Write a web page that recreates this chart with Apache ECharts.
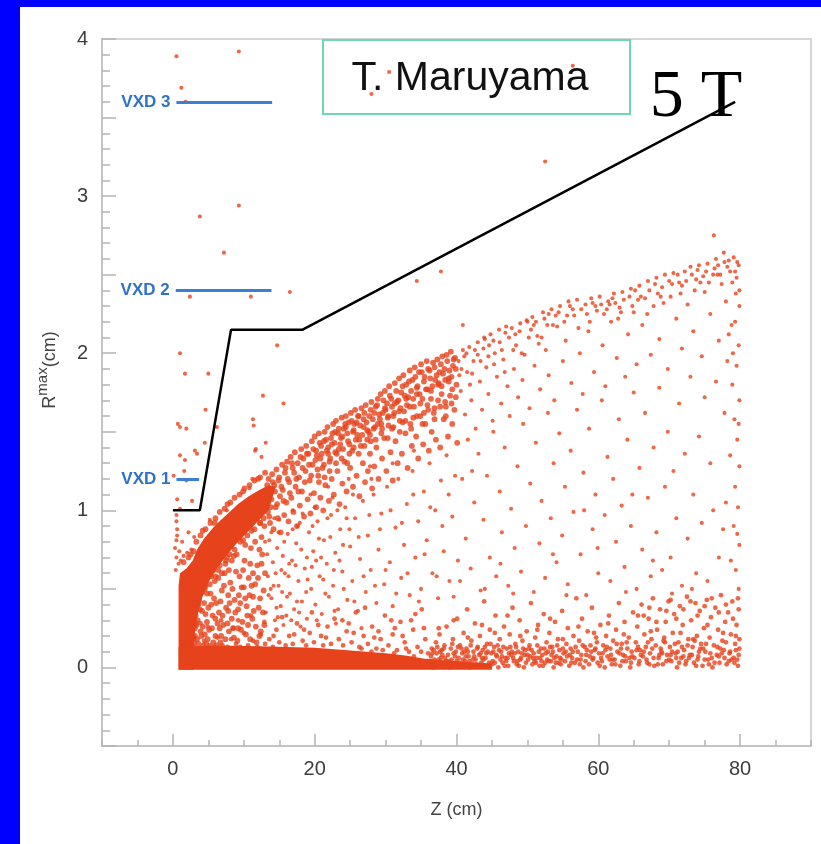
<!DOCTYPE html>
<html>
<head>
<meta charset="utf-8">
<script src="https://cdn.jsdelivr.net/npm/echarts@6/dist/echarts.min.js"></script>
<style>
  html, body { margin: 0; padding: 0; background: #0000ff; width: 821px; height: 844px; overflow: hidden; }
  #chart { position: absolute; left: 20px; top: 7px; width: 801px; height: 837px; background: #fff; }
</style>
</head>
<body>
<div id="chart"></div>
<script>
  // tick labels
  const xLabels = [0, 20, 40, 60, 80]
  const yLabels = [0, 1, 2, 3, 4]

  // acceptance limit (black line), Z in cm / R in cm
  const limitZ = [0, 3.8, 8.2, 18.3, 79.3]
  const limitR = [1.0, 1.0, 2.15, 2.15, 3.6]

  // vertex detector layers
  const vxdNames = ['VXD 1', 'VXD 2', 'VXD 3']
  const vxdR = [1.2, 2.4, 3.6]
  const vxdZStart = [0.5, 0.4, 0.5]
  const vxdZEnd = [3.7, 13.9, 14.0]

  // regions where the hits are so packed they read as solid colour
  const denseArc = [[0.8, -0.015], [0.8, 0.52], [1.0, 0.6], [1.9, 0.63], [2.8, 0.68], [3.4, 0.75], [4.4, 0.82],
    [5.7, 0.89], [6.8, 0.94], [8.0, 0.99], [9.2, 1.04], [10.7, 1.09], [12.2, 1.13], [13.5, 1.16], [14.5, 1.15],
    [13.5, 1.0], [12, 0.93], [10.5, 0.86], [9, 0.79], [7.5, 0.71], [6.2, 0.63], [5, 0.54], [4.1, 0.44],
    [3.4, 0.32], [3.0, 0.18], [2.9, -0.015]]
  const denseFloor = [[0.8, -0.015], [0.8, 0.13], [6, 0.14], [12, 0.135], [20, 0.125], [26, 0.105], [30, 0.09],
    [33, 0.075], [35.5, 0.055], [40, 0.04], [45, 0.025], [45, -0.015]]

  // individual hits
  const strayHits = [[0.5, 3.89], [9.3, 3.92], [1.2, 3.69], [1.8, 3.6], [3.8, 2.87], [9.3, 2.94], [7.2, 2.64],
    [2.4, 2.36], [11.0, 2.36], [16.5, 2.39], [52.5, 3.22], [37.8, 2.52], [34.4, 2.46], [40.9, 2.18], [76.3, 2.75],
    [28.0, 3.65], [30.5, 3.79], [56.4, 3.83],
    [1.0, 2.0], [1.7, 1.87], [5.0, 1.87], [14.7, 2.05], [12.7, 1.73], [15.6, 1.68], [4.6, 1.64], [0.7, 1.55],
    [1.0, 1.53], [1.9, 1.52], [6.2, 1.53], [11.3, 1.58], [11.4, 1.54], [4.5, 1.43], [13.1, 1.43], [11.7, 1.39],
    [3.1, 1.38], [3.4, 1.36], [1.0, 1.35], [1.7, 1.32], [12.5, 1.34], [0.1, 1.22], [1.6, 1.25], [1.9, 1.19],
    [0.6, 1.07], [2.7, 1.06], [1.0, 1.01], [0.5, 0.97], [0.5, 0.93], [0.6, 0.88], [5.2, 0.94], [7.6, 1.0],
    [9.7, 1.01], [11.2, 1.2], [10.8, 1.14], [11.6, 1.38], [6.2, 0.88], [0.4, 0.62], [0.5, 0.7], [0.3, 0.76],
    [0.5, 0.81], [0.6, 0.84], [1.1, 0.68], [0.9, 0.74], [1.5, 0.71], [2.0, 0.73], [2.6, 0.75], [1.3, 0.8],
    [2.2, 0.86], [3.0, 0.83], [0.8, 0.66]]

  // soft edges around the solid arc at small Z
  const arcEdgeHits = [[2.2, 0.7], [2.9, 0.74], [3.3, 0.8], [3.9, 0.84], [4.6, 0.88], [5.3, 0.92], [6.0, 0.95],
    [6.6, 0.99], [7.3, 1.01], [8.1, 1.05], [8.7, 1.08], [9.4, 1.1], [10.1, 1.14], [10.8, 1.16], [11.5, 1.19],
    [12.3, 1.21], [13.0, 1.24], [1.5, 0.67], [2.5, 0.72], [4.2, 0.87], [5.9, 0.92], [7.7, 1.04], [9.9, 1.12],
    [12.0, 1.2], [3.6, 0.4], [4.5, 0.5], [5.4, 0.58], [6.4, 0.62], [7.5, 0.68], [8.7, 0.75], [9.9, 0.81],
    [11.1, 0.87], [12.3, 0.92], [13.6, 0.96], [3.2, 0.28], [3.1, 0.2], [3.0, 0.12], [4.1, 0.48], [6.0, 0.58],
    [8.0, 0.72], [10.5, 0.84], [12.8, 0.95]]

  const lowArcHits = [[3.0, 0.16], [3.3, 0.27], [3.4, 0.18], [3.2, 0.33], [3.9, 0.23], [4.1, 0.36], [3.7, 0.43],
    [4.3, 0.14], [3.1, 0.41], [4.0, 0.5], [4.5, 0.21], [4.8, 0.29], [5.0, 0.38], [4.6, 0.52], [5.1, 0.24],
    [5.3, 0.47], [5.6, 0.33], [5.7, 0.16], [5.9, 0.55], [6.1, 0.41], [6.3, 0.28], [5.0, 0.6], [5.4, 0.62],
    [6.2, 0.66], [4.7, 0.15], [6.0, 0.2], [6.5, 0.35], [6.8, 0.2], [6.9, 0.49], [7.1, 0.27], [7.3, 0.6],
    [7.5, 0.38], [7.6, 0.7], [7.9, 0.23], [8.1, 0.54], [8.3, 0.31], [6.6, 0.65], [7.0, 0.73], [7.8, 0.46],
    [8.2, 0.77], [6.7, 0.16], [7.4, 0.18], [8.5, 0.25], [8.7, 0.43], [8.9, 0.61], [9.1, 0.17], [9.2, 0.37],
    [9.5, 0.8], [9.7, 0.51], [9.8, 0.29], [10.1, 0.68], [10.3, 0.21], [8.8, 0.83], [9.4, 0.58], [10.0, 0.86],
    [8.6, 0.71], [10.2, 0.44], [10.5, 0.33], [10.7, 0.57], [10.9, 0.18], [11.0, 0.76], [11.3, 0.45],
    [11.5, 0.88], [11.7, 0.26], [11.9, 0.65], [12.1, 0.38], [12.3, 0.92], [10.8, 0.9], [11.6, 0.53],
    [12.2, 0.2], [11.2, 0.31], [12.6, 0.72], [12.8, 0.49], [12.5, 0.83], [12.9, 0.27],
    [2.9, 0.19], [3.1, 0.25], [3.5, 0.3], [3.6, 0.15], [3.8, 0.37], [4.2, 0.26], [4.4, 0.41], [4.3, 0.55],
    [4.6, 0.34], [4.9, 0.18], [5.2, 0.53], [5.5, 0.25], [5.8, 0.44], [6.0, 0.31], [6.4, 0.57], [6.2, 0.14],
    [6.7, 0.42], [7.0, 0.33], [7.2, 0.52], [7.4, 0.66], [7.7, 0.28], [7.9, 0.62], [8.0, 0.41], [8.4, 0.5],
    [8.6, 0.19], [8.8, 0.35], [9.0, 0.72], [9.3, 0.46], [9.6, 0.24], [9.9, 0.62], [10.2, 0.78], [10.4, 0.39],
    [10.6, 0.27], [10.9, 0.66], [11.1, 0.52], [11.4, 0.36], [11.6, 0.8], [11.8, 0.16], [12.0, 0.57], [12.3, 0.44],
    [12.5, 0.66], [12.7, 0.35], [12.9, 0.9], [13.0, 0.6], [3.3, 0.46], [4.8, 0.47], [5.7, 0.62], [6.9, 0.6],
    [8.3, 0.68], [9.2, 0.25], [10.0, 0.51], [11.3, 0.6], [12.4, 0.23], [4.0, 0.2], [5.4, 0.4], [6.6, 0.25],
    [7.8, 0.36], [9.5, 0.41], [10.8, 0.46], [12.2, 0.75]]

  const arcHits = [[13.2, 1.13], [13.4, 0.99], [13.5, 1.2], [13.7, 0.92], [13.9, 1.07], [14.0, 1.23], [14.2, 0.88],
    [14.3, 1.16], [14.5, 1.02], [14.6, 1.26], [14.8, 0.95], [14.9, 1.19], [15.1, 1.09], [15.2, 0.86], [15.4, 1.29],
    [15.5, 1.13], [15.7, 0.97], [15.8, 1.24], [16.0, 1.05], [16.1, 1.31], [16.3, 0.93], [16.4, 1.18], [16.6, 1.34],
    [16.7, 1.08], [16.9, 1.27], [17.0, 0.99], [17.2, 1.37], [17.3, 1.15], [17.5, 0.9], [17.6, 1.3], [17.8, 1.21],
    [17.9, 1.03], [18.1, 1.39], [18.2, 1.12], [18.4, 1.33], [18.5, 0.96], [18.7, 1.25], [18.8, 1.41], [19.0, 1.07],
    [19.1, 1.36], [19.3, 1.19], [19.4, 0.98], [19.6, 1.44], [19.7, 1.29], [19.9, 1.11], [20.0, 1.47], [20.2, 1.02],
    [20.3, 1.35], [20.5, 1.22], [20.6, 1.49], [20.8, 1.08], [20.9, 1.41], [21.1, 1.27], [21.2, 1.0], [21.4, 1.5],
    [21.5, 1.16], [21.7, 1.38], [21.8, 1.53], [22.0, 1.06], [22.1, 1.31], [22.3, 1.46], [22.4, 1.2], [22.6, 1.55],
    [22.7, 1.1], [22.9, 1.37], [23.0, 1.57], [23.2, 1.25], [23.3, 1.49], [23.5, 1.04], [23.6, 1.42], [23.8, 1.59],
    [23.9, 1.17], [24.1, 1.52], [24.2, 1.31], [24.4, 1.6], [24.5, 1.12], [24.7, 1.44], [24.8, 1.56], [25.0, 1.27],
    [25.1, 1.62], [25.3, 1.38], [25.4, 1.15], [25.6, 1.55], [25.7, 1.64], [25.9, 1.22], [26.0, 1.48], [26.2, 1.6],
    [26.3, 1.09], [26.5, 1.41], [26.6, 1.65], [26.8, 1.3], [26.9, 1.53], [27.1, 1.18], [27.2, 1.67], [27.4, 1.45],
    [27.5, 1.25], [27.7, 1.6], [27.8, 1.36], [28.0, 1.69], [28.1, 1.14], [28.3, 1.52], [28.4, 1.28], [28.6, 1.66],
    [28.7, 1.4], [28.9, 1.71], [29.0, 1.2], [29.2, 1.58], [29.3, 1.74], [29.5, 1.33], [29.6, 1.62], [29.8, 1.46],
    [29.9, 1.76], [30.1, 1.25], [30.2, 1.68], [30.4, 1.54], [30.5, 1.79], [30.7, 1.37], [30.8, 1.71], [31.0, 1.19],
    [31.1, 1.6], [31.3, 1.81], [31.4, 1.44], [31.6, 1.69], [31.7, 1.3], [31.9, 1.84], [32.0, 1.57], [32.2, 1.75],
    [32.3, 1.36], [32.5, 1.86], [32.6, 1.63], [32.8, 1.49], [32.9, 1.8], [33.1, 1.27], [33.2, 1.72], [33.4, 1.89],
    [33.5, 1.55], [33.7, 1.41], [33.8, 1.83], [34.0, 1.66], [34.1, 1.91], [34.3, 1.47], [34.4, 1.78], [34.6, 1.33],
    [34.7, 1.88], [34.9, 1.6], [35.0, 1.93], [35.2, 1.71], [35.3, 1.42], [35.5, 1.85], [35.6, 1.55], [35.8, 1.95],
    [35.9, 1.67], [36.1, 1.38], [36.2, 1.89], [36.4, 1.76], [36.5, 1.5], [36.7, 1.94], [36.8, 1.62], [37.0, 1.83],
    [37.1, 1.45], [37.3, 1.96], [37.4, 1.7], [37.6, 1.88], [37.7, 1.4], [37.9, 1.79], [38.0, 1.98], [38.2, 1.58],
    [38.3, 1.9], [38.5, 1.66], [38.6, 1.99], [38.8, 1.47], [38.9, 1.84], [39.1, 1.73], [39.2, 2.01], [39.4, 1.55],
    [39.5, 1.92], [39.7, 1.64], [39.8, 1.97], [40.0, 1.8], [40.1, 1.43],
    [13.3, 1.16], [13.6, 1.1], [13.8, 1.02], [14.1, 1.18], [14.4, 1.12], [14.7, 1.04], [15.0, 1.21], [15.3, 1.15],
    [15.6, 1.06], [15.9, 1.27], [16.2, 1.2], [16.5, 1.11], [16.8, 1.3], [17.1, 1.24], [17.4, 1.2], [17.7, 1.12],
    [18.0, 1.34], [18.3, 1.27], [18.6, 1.18], [18.9, 1.36], [19.2, 1.29], [19.5, 1.22], [19.8, 1.39], [20.1, 1.32],
    [20.4, 1.26], [20.7, 1.43], [21.0, 1.36], [21.3, 1.29], [21.6, 1.45], [21.9, 1.4], [22.2, 1.33], [22.5, 1.49],
    [22.8, 1.43], [23.1, 1.36], [23.4, 1.52], [23.7, 1.46], [24.0, 1.39], [24.3, 1.55], [24.6, 1.49], [24.9, 1.42],
    [25.2, 1.57], [25.5, 1.51], [25.8, 1.45], [26.1, 1.6], [26.4, 1.54], [26.7, 1.48], [27.0, 1.62], [27.3, 1.56],
    [27.6, 1.5], [27.9, 1.64], [28.2, 1.58], [28.5, 1.53], [28.8, 1.67], [29.1, 1.61], [29.4, 1.55], [29.7, 1.7],
    [30.0, 1.64], [30.3, 1.59], [30.6, 1.73], [30.9, 1.66], [31.2, 1.62], [31.5, 1.76], [31.8, 1.7], [32.1, 1.65],
    [32.4, 1.79], [32.7, 1.73], [33.0, 1.67], [33.3, 1.82], [33.6, 1.76], [33.9, 1.71], [34.2, 1.85], [34.5, 1.79],
    [34.8, 1.74], [35.1, 1.88], [35.4, 1.82], [35.7, 1.77], [36.0, 1.9], [36.3, 1.84], [36.6, 1.79], [36.9, 1.91],
    [37.2, 1.86], [37.5, 1.81], [37.8, 1.93], [38.1, 1.87], [38.4, 1.83], [38.7, 1.95], [39.0, 1.89], [39.3, 1.85],
    [39.6, 1.96], [39.9, 1.9],
    [20.2, 1.38], [20.8, 1.33], [21.3, 1.44], [21.9, 1.36], [22.4, 1.42], [22.9, 1.5], [23.4, 1.39], [23.9, 1.47],
    [24.4, 1.53], [24.9, 1.36], [25.4, 1.5], [25.9, 1.56], [26.3, 1.45], [26.9, 1.58], [27.4, 1.51], [27.9, 1.44],
    [28.4, 1.62], [28.9, 1.55], [29.4, 1.49], [29.9, 1.65], [30.4, 1.6], [30.9, 1.52], [31.3, 1.68], [31.9, 1.63],
    [32.4, 1.56], [32.9, 1.71], [33.4, 1.66], [33.9, 1.59], [34.4, 1.74], [34.9, 1.68], [35.4, 1.62], [35.9, 1.77],
    [36.4, 1.71], [36.9, 1.65], [37.4, 1.8], [37.9, 1.74], [38.4, 1.69], [38.9, 1.82], [39.4, 1.77], [39.9, 1.72],
    [20.6, 1.18], [21.4, 1.21], [22.1, 1.25], [23.0, 1.3], [23.8, 1.33], [24.6, 1.3], [25.5, 1.4], [26.2, 1.36],
    [27.0, 1.41], [27.8, 1.48], [28.6, 1.45], [29.5, 1.52], [30.3, 1.46], [31.1, 1.53], [32.0, 1.5], [32.8, 1.57],
    [33.6, 1.52], [34.4, 1.6], [35.2, 1.55], [36.0, 1.64], [36.9, 1.58], [37.7, 1.66], [38.5, 1.6], [39.3, 1.68]]

  const midHits = [[13.1, 0.35], [13.4, 0.58], [13.6, 0.81], [13.9, 0.44], [14.1, 0.67], [14.4, 0.3], [14.7, 0.76],
    [14.9, 0.52], [15.2, 0.39], [15.5, 0.71], [15.8, 0.6], [16.0, 0.33], [16.2, 0.85], [16.5, 0.47], [16.8, 0.68],
    [17.1, 0.37], [17.4, 0.79], [17.7, 0.55], [17.9, 0.92], [18.2, 0.42], [18.6, 0.63], [18.9, 0.31], [19.2, 0.86],
    [19.5, 0.5], [19.8, 0.74], [20.1, 0.4], [20.4, 0.93], [20.7, 0.58], [21.0, 0.34], [21.3, 0.81], [21.7, 0.66],
    [22.0, 0.45], [22.3, 0.97], [22.6, 0.52], [22.9, 0.73], [23.3, 0.37], [23.6, 0.88], [23.9, 0.61], [24.3, 1.02],
    [24.6, 0.43], [25.0, 0.77], [25.3, 0.55], [25.7, 0.95], [26.1, 0.36], [26.4, 0.69], [26.8, 1.06], [27.2, 0.48],
    [27.5, 0.84], [27.9, 0.62], [28.3, 1.1], [28.7, 0.41], [29.0, 0.75], [29.4, 0.98], [29.8, 0.53], [30.2, 1.15],
    [30.6, 0.67], [31.0, 0.39], [31.4, 0.89], [31.8, 1.2], [32.2, 0.57], [32.6, 0.78], [33.0, 1.04], [33.4, 0.46],
    [33.8, 1.25], [34.2, 0.7], [34.6, 0.93], [35.0, 0.5], [35.4, 1.12], [35.8, 0.81], [36.2, 1.3], [36.6, 0.6],
    [37.0, 1.0], [37.4, 0.44], [37.8, 1.19], [38.2, 0.74], [38.6, 1.35], [39.0, 0.55], [39.4, 0.96], [39.8, 1.22],
    [40.2, 0.68], [14.3, 0.95], [16.9, 1.0], [19.4, 1.1], [21.9, 1.15], [24.8, 1.2], [27.8, 1.28], [15.6, 0.27],
    [18.0, 0.26], [23.0, 0.28], [26.6, 0.25],
    [13.8, 0.5], [14.6, 0.38], [15.3, 0.62], [16.1, 0.45], [16.7, 0.3], [17.3, 0.65], [18.1, 0.75], [18.8, 0.48],
    [19.6, 0.64], [20.3, 0.3], [20.9, 0.7], [21.5, 0.47], [22.2, 0.83], [22.8, 0.36], [23.5, 0.68], [24.1, 0.5],
    [24.9, 0.88], [25.6, 0.42], [26.2, 0.83], [26.9, 0.58], [27.7, 0.97], [28.5, 0.52], [29.2, 0.88], [30.0, 0.62],
    [30.7, 1.0], [31.5, 0.47], [32.3, 0.92], [33.1, 0.6], [33.9, 1.1], [34.7, 0.42], [35.5, 0.72], [36.3, 1.02],
    [37.2, 0.58], [38.0, 0.9], [38.9, 1.1], [39.6, 0.45], [14.9, 0.86], [17.6, 0.9], [20.0, 1.02], [22.5, 1.08],
    [25.4, 1.1], [28.0, 1.2], [31.0, 1.3], [34.0, 1.38],
    [13.3, 0.72], [13.9, 0.86], [14.5, 0.6], [15.0, 0.94], [15.7, 0.8], [16.4, 0.66], [16.9, 0.88], [17.5, 0.42],
    [18.3, 0.98], [18.9, 0.7], [19.7, 0.9], [20.6, 0.82], [21.2, 0.56], [21.8, 0.95], [22.7, 0.62], [23.2, 1.0],
    [24.0, 0.78], [24.5, 0.95], [13.5, 0.46], [14.8, 0.32], [16.3, 0.58], [17.8, 0.35], [19.0, 0.56], [20.2, 0.68],
    [13.0, 0.8], [14.2, 0.52], [15.4, 0.48], [12.8, 1.0]]

  const floorNearHits = [[1.5, 0.14], [2.0, 0.2], [3.0, 0.13], [3.6, 0.12], [4.4, 0.17], [5.2, 0.14], [5.8, 0.13],
    [6.3, 0.19], [7.0, 0.14], [7.7, 0.13], [8.2, 0.18], [8.9, 0.15], [9.5, 0.13], [10.0, 0.22], [10.6, 0.14],
    [11.3, 0.17], [11.9, 0.13], [12.4, 0.21], [13.0, 0.15], [13.6, 0.18], [14.1, 0.13], [14.6, 0.24], [15.0, 0.16],
    [15.9, 0.14], [16.4, 0.2], [16.9, 0.15], [17.5, 0.28], [18.3, 0.17], [18.8, 0.14], [19.3, 0.22], [19.9, 0.16],
    [20.5, 0.27], [21.2, 0.14], [21.6, 0.19], [22.3, 0.15], [22.8, 0.31], [23.4, 0.18], [24.0, 0.14], [24.5, 0.23],
    [25.2, 0.16], [25.8, 0.35], [26.3, 0.13], [26.9, 0.2], [27.5, 0.15], [28.1, 0.26], [28.7, 0.12], [29.3, 0.18],
    [29.9, 0.33], [30.4, 0.14], [31.0, 0.21], [31.6, 0.11], [32.1, 0.29], [32.7, 0.16], [33.3, 0.1], [33.9, 0.24],
    [34.5, 0.13], [35.1, 0.37], [35.6, 0.18], [36.0, 0.09], [4.9, 0.26], [6.8, 0.3], [8.5, 0.25], [11.0, 0.33],
    [12.9, 0.29], [15.4, 0.32], [17.1, 0.21], [19.6, 0.35], [21.8, 0.26], [23.9, 0.3], [25.5, 0.22], [27.1, 0.38],
    [29.0, 0.23], [30.8, 0.3], [32.4, 0.2], [34.2, 0.34], [3.9, 0.28], [9.2, 0.3], [14.2, 0.2], [18.5, 0.24],
    [20.9, 0.2], [24.8, 0.28], [28.4, 0.19], [31.3, 0.25], [33.6, 0.3], [35.4, 0.25],
    [26.6, 0.12], [28.0, 0.1], [29.6, 0.11], [31.2, 0.09], [32.9, 0.12], [34.0, 0.07], [35.0, 0.1], [35.9, 0.04]]

  const floorFarHits = [[36.2, 0.02], [36.4, 0.07], [36.5, 0.12], [36.7, 0.0], [36.9, 0.05], [37.1, 0.16], [37.2, 0.09],
    [37.4, 0.03], [37.6, 0.21], [37.8, 0.06], [37.9, 0.11], [38.1, 0.01], [38.3, 0.14], [38.5, 0.04], [38.6, 0.26],
    [38.8, 0.08], [39.0, 0.0], [39.2, 0.12], [39.3, 0.05], [39.5, 0.18], [39.7, 0.02], [39.9, 0.1], [40.1, 0.31],
    [40.3, 0.06], [40.5, 0.14], [40.6, 0.01], [40.8, 0.09], [41.0, 0.22], [41.2, 0.04], [41.4, 0.12], [41.5, 0.37],
    [41.7, 0.07], [41.9, 0.0], [42.1, 0.17], [42.3, 0.05], [42.4, 0.1], [42.6, 0.28], [42.8, 0.02], [43.0, 0.13],
    [43.2, 0.08], [43.3, 0.2], [43.5, 0.03], [43.7, 0.11], [43.9, 0.42], [44.1, 0.06], [44.3, 0.15], [44.5, 0.01],
    [44.7, 0.24], [44.9, 0.09], [45.1, 0.04], [45.3, 0.13], [45.5, 0.33], [45.7, 0.07], [45.9, 0.0], [46.1, 0.18],
    [46.3, 0.1], [46.5, 0.03], [46.7, 0.26], [46.9, 0.06], [47.1, 0.12], [47.3, 0.01], [47.5, 0.21], [47.7, 0.08],
    [47.9, 0.38], [48.1, 0.04], [48.3, 0.15], [48.5, 0.02], [48.7, 0.1], [48.9, 0.3], [49.1, 0.06], [49.3, 0.17],
    [49.5, 0.0], [49.7, 0.11], [49.9, 0.23], [50.1, 0.05], [50.3, 0.14], [50.5, 0.41], [50.7, 0.02], [50.9, 0.09],
    [51.1, 0.19], [51.3, 0.06], [51.5, 0.27], [51.7, 0.01], [51.9, 0.12], [52.1, 0.08], [52.3, 0.34], [52.5, 0.03],
    [52.7, 0.16], [52.9, 0.1], [53.1, 0.22], [53.3, 0.04], [53.5, 0.13], [53.7, 0.0], [53.9, 0.29], [54.1, 0.07],
    [54.3, 0.18], [54.5, 0.11], [54.7, 0.02], [54.9, 0.36], [55.1, 0.09], [55.3, 0.04], [55.5, 0.15], [55.7, 0.25],
    [55.9, 0.01], [56.1, 0.12], [56.3, 0.06], [56.5, 0.2], [56.7, 0.03], [56.9, 0.44], [57.1, 0.1], [57.3, 0.17],
    [57.5, 0.05], [57.7, 0.31], [57.9, 0.0], [58.1, 0.13], [58.3, 0.08], [58.5, 0.23], [58.7, 0.02], [58.9, 0.14],
    [59.1, 0.38], [59.3, 0.06], [59.5, 0.11], [59.7, 0.19], [59.9, 0.03], [60.1, 0.09], [60.3, 0.27], [60.5, 0.04],
    [60.7, 0.14], [60.9, 0.0], [61.1, 0.2], [61.3, 0.07], [61.5, 0.33], [61.7, 0.12], [61.9, 0.02], [62.1, 0.17],
    [62.3, 0.05], [62.5, 0.24], [62.7, 0.1], [62.9, 0.41], [63.1, 0.01], [63.3, 0.15], [63.5, 0.08], [63.7, 0.29],
    [63.9, 0.04], [64.1, 0.12], [64.3, 0.19], [64.5, 0.0], [64.7, 0.1], [64.9, 0.35], [65.1, 0.06], [65.3, 0.16],
    [65.5, 0.26], [65.7, 0.02], [65.9, 0.11], [66.1, 0.4], [66.3, 0.07], [66.5, 0.21], [66.7, 0.13], [66.9, 0.03],
    [67.1, 0.31], [67.3, 0.09], [67.5, 0.18], [67.7, 0.44], [67.9, 0.01], [68.1, 0.14], [68.3, 0.24], [68.5, 0.06],
    [68.7, 0.37], [68.9, 0.1], [69.1, 0.02], [69.3, 0.19], [69.5, 0.29], [69.7, 0.08], [69.9, 0.42], [70.1, 0.13],
    [70.3, 0.04], [70.5, 0.22], [70.7, 0.34], [70.9, 0.09], [71.1, 0.0], [71.3, 0.16], [71.5, 0.39], [71.7, 0.06],
    [71.9, 0.27], [72.1, 0.11], [72.3, 0.02], [72.5, 0.45], [72.7, 0.18], [72.9, 0.08], [73.1, 0.3], [73.3, 0.13],
    [73.5, 0.03], [73.7, 0.41], [73.9, 0.2], [74.1, 0.07], [74.3, 0.36], [74.5, 0.15], [74.7, 0.01], [74.9, 0.25],
    [75.1, 0.1], [75.3, 0.43], [75.5, 0.05], [75.7, 0.19], [75.9, 0.32], [76.1, 0.0], [76.3, 0.14], [76.5, 0.38],
    [76.7, 0.08], [76.9, 0.24], [77.1, 0.03], [77.3, 0.46], [77.5, 0.17], [77.7, 0.11], [77.9, 0.29], [78.1, 0.02],
    [78.3, 0.35], [78.5, 0.09], [78.7, 0.21], [78.9, 0.42], [79.1, 0.06], [79.3, 0.15], [79.5, 0.27], [79.7, 0.01],
    [79.9, 0.12], [79.8, 0.37], [79.6, 0.05],
    [36.3, 0.04], [37.0, 0.02], [37.7, 0.1], [38.4, 0.06], [39.1, 0.03], [39.8, 0.07], [40.4, 0.03], [41.1, 0.1],
    [41.8, 0.04], [42.5, 0.07], [43.1, 0.01], [43.8, 0.05], [44.4, 0.1], [45.0, 0.02], [45.6, 0.08], [46.2, 0.05],
    [46.8, 0.01], [47.4, 0.09], [48.0, 0.06], [48.6, 0.04], [49.2, 0.09], [49.8, 0.03], [50.4, 0.07], [51.0, 0.04],
    [51.6, 0.1], [52.2, 0.01], [52.8, 0.05], [53.4, 0.08], [54.0, 0.03], [54.6, 0.06], [56.0, 0.08], [57.4, 0.02],
    [58.8, 0.07], [60.2, 0.01], [61.6, 0.05], [63.0, 0.09], [64.4, 0.06], [65.8, 0.04], [67.2, 0.02], [68.6, 0.08],
    [70.0, 0.05], [71.4, 0.03], [72.8, 0.06], [74.2, 0.1], [75.6, 0.02], [77.0, 0.07], [78.4, 0.04],
    [36.6, 0.09], [37.3, 0.13], [38.0, 0.08], [38.7, 0.02], [39.4, 0.15], [40.0, 0.04], [40.7, 0.12], [41.3, 0.07],
    [42.0, 0.14], [42.7, 0.05], [43.4, 0.09], [44.0, 0.13], [44.6, 0.03], [45.2, 0.1], [45.8, 0.14], [46.4, 0.07],
    [47.0, 0.04], [47.6, 0.13], [48.2, 0.09], [48.8, 0.01], [49.4, 0.12], [50.0, 0.08], [50.6, 0.11], [51.2, 0.03],
    [51.8, 0.06], [52.4, 0.12], [53.0, 0.04], [53.6, 0.1], [54.2, 0.14], [54.8, 0.05], [55.4, 0.1], [56.2, 0.03],
    [56.8, 0.13], [57.6, 0.08], [58.2, 0.04], [59.0, 0.1], [59.6, 0.12], [60.4, 0.06], [61.0, 0.11], [61.8, 0.08],
    [62.4, 0.02], [63.2, 0.12], [63.8, 0.07], [64.6, 0.03], [65.4, 0.11], [66.0, 0.08], [66.8, 0.05], [67.6, 0.12],
    [68.4, 0.02], [69.0, 0.09], [69.6, 0.04], [70.4, 0.1], [71.0, 0.06], [71.8, 0.13], [72.4, 0.04], [73.2, 0.08],
    [73.8, 0.01], [74.4, 0.12], [75.0, 0.05], [75.8, 0.09], [76.4, 0.03], [77.2, 0.12], [77.8, 0.06], [78.6, 0.1],
    [79.2, 0.03], [79.8, 0.08],
    [37.5, 0.25], [39.6, 0.3], [41.6, 0.19], [43.6, 0.27], [45.4, 0.22], [47.2, 0.33], [49.0, 0.2], [51.4, 0.24],
    [53.2, 0.31], [55.0, 0.18], [57.2, 0.26], [59.4, 0.22], [61.4, 0.28], [63.6, 0.21], [65.6, 0.33], [67.4, 0.23],
    [69.4, 0.16], [71.6, 0.22], [73.6, 0.17], [75.4, 0.27], [77.6, 0.22], [79.4, 0.2],
    [36.8, 0.11], [37.5, 0.05], [38.2, 0.12], [38.9, 0.04], [39.6, 0.09], [40.2, 0.13], [40.9, 0.05], [41.6, 0.1],
    [42.2, 0.02], [42.9, 0.12], [43.6, 0.06], [44.2, 0.09], [44.8, 0.15], [45.4, 0.03], [46.0, 0.11], [46.6, 0.13],
    [47.2, 0.06], [47.8, 0.1], [48.4, 0.13], [49.0, 0.05], [49.6, 0.08], [50.2, 0.12], [50.8, 0.06], [51.4, 0.14],
    [52.0, 0.04], [52.6, 0.09], [53.2, 0.13], [53.8, 0.06], [54.4, 0.03], [55.0, 0.12], [55.6, 0.07], [56.4, 0.1],
    [57.0, 0.05], [57.8, 0.14], [58.4, 0.11], [59.2, 0.05], [59.8, 0.16], [60.6, 0.09], [61.2, 0.13], [62.0, 0.05],
    [62.6, 0.15], [63.4, 0.04], [64.0, 0.16], [64.8, 0.07], [65.6, 0.13], [66.4, 0.1], [67.0, 0.16], [67.8, 0.06],
    [68.8, 0.12], [69.2, 0.17], [70.2, 0.08], [70.8, 0.15], [71.2, 0.1], [72.0, 0.07], [72.6, 0.14], [73.4, 0.18],
    [74.0, 0.05], [74.8, 0.12], [75.2, 0.15], [76.0, 0.06], [76.8, 0.13], [77.4, 0.09], [78.0, 0.16], [78.8, 0.05],
    [79.4, 0.11], [79.9, 0.18],
    [66.4, 0.33], [67.2, 0.38], [68.2, 0.29], [69.6, 0.36], [70.2, 0.43], [71.0, 0.31], [72.0, 0.37], [73.0, 0.42],
    [74.0, 0.33], [75.0, 0.39], [76.0, 0.44], [77.0, 0.35], [78.0, 0.4], [79.0, 0.31], [79.7, 0.44]]

  const upperFarHits = [[40.3, 1.95], [40.6, 1.76], [40.9, 2.02], [41.2, 1.61], [41.5, 1.88], [41.8, 2.04], [42.1, 1.7],
    [42.4, 1.95], [42.7, 1.52], [43.0, 2.07], [43.3, 1.82], [43.6, 1.64], [43.9, 2.1], [44.2, 1.91], [44.5, 1.74],
    [44.8, 2.12], [45.1, 1.57], [45.4, 2.0], [45.7, 1.85], [46.0, 2.15], [46.3, 1.68], [46.6, 1.96], [46.9, 2.13],
    [47.2, 1.79], [47.5, 1.6], [47.8, 2.16], [48.1, 1.9], [48.4, 2.05], [48.7, 1.72], [49.0, 2.19], [49.3, 1.83],
    [49.6, 1.99], [49.9, 2.21], [50.3, 1.65], [50.7, 2.23], [51.0, 1.92], [51.4, 2.11], [51.8, 1.77], [52.2, 2.26],
    [52.6, 2.02], [53.0, 1.86], [53.4, 2.28], [53.8, 1.7], [54.2, 2.17], [54.6, 2.3], [55.0, 1.95], [55.4, 2.08],
    [55.8, 2.33], [56.2, 1.81], [56.6, 2.24], [57.0, 2.34], [57.4, 2.0], [57.8, 1.74], [58.2, 2.31], [58.6, 2.14],
    [59.0, 2.35], [59.4, 1.88], [59.8, 2.27], [60.2, 2.36], [60.6, 2.05], [61.0, 1.79], [61.4, 2.33], [61.8, 2.2],
    [62.2, 2.38], [62.6, 1.97], [63.0, 2.29], [63.4, 2.39], [63.8, 1.85], [64.2, 2.12], [64.6, 2.41], [65.0, 2.26],
    [65.4, 1.93], [65.8, 2.43], [66.2, 2.18], [66.6, 2.35], [67.0, 2.46], [67.4, 1.99], [67.8, 2.3], [68.2, 2.48],
    [68.6, 2.09], [69.0, 2.42], [69.4, 2.5], [69.8, 1.9], [70.2, 2.36], [70.6, 2.51], [71.0, 2.22], [71.4, 2.45],
    [71.8, 2.03], [72.2, 2.52], [72.6, 2.31], [73.0, 2.55], [73.4, 2.14], [73.8, 2.47], [74.2, 2.56], [74.6, 1.98],
    [75.0, 2.39], [75.4, 2.57], [75.8, 2.25], [76.2, 2.5], [76.6, 2.6], [77.0, 2.08], [77.4, 2.44], [77.7, 2.64],
    [78.0, 2.33], [78.4, 2.59], [78.8, 2.18], [79.1, 2.61], [79.5, 2.48], [79.8, 2.56], [79.9, 2.4],
    [44.0, 2.09], [47.0, 2.17], [50.0, 2.2], [53.0, 2.25], [56.0, 2.3], [59.2, 2.32], [62.0, 2.35], [65.2, 2.4],
    [68.0, 2.44], [71.2, 2.5], [74.0, 2.53], [76.9, 2.56], [78.6, 2.52],
    [40.4, 1.86], [41.1, 1.98], [41.9, 1.8], [42.6, 2.02], [43.4, 1.95], [44.6, 2.05], [45.3, 1.93], [46.1, 2.07],
    [46.8, 1.88], [48.3, 2.12], [49.2, 2.0], [50.5, 2.15], [51.2, 2.2], [52.0, 2.1], [52.8, 2.18], [54.0, 2.24],
    [55.2, 2.2], [56.4, 2.28], [57.2, 2.16], [58.4, 2.25], [59.6, 2.3], [60.8, 2.25], [61.6, 2.31], [62.8, 2.22],
    [63.6, 2.34], [64.8, 2.3], [66.0, 2.36], [66.9, 2.25], [68.4, 2.38], [69.2, 2.32], [70.4, 2.44], [71.6, 2.38],
    [72.4, 2.46], [73.6, 2.4], [74.8, 2.49], [75.6, 2.45], [76.4, 2.54], [77.2, 2.5], [78.2, 2.55], [79.3, 2.52],
    [40.7, 1.9], [41.4, 2.0], [42.2, 1.87], [43.0, 1.99], [43.8, 2.03], [44.5, 1.98], [45.2, 2.08], [46.4, 2.02],
    [47.4, 2.1], [48.0, 2.02], [48.9, 2.14], [50.2, 2.1], [50.9, 2.18], [51.6, 2.06], [52.4, 2.22], [53.6, 2.18],
    [54.4, 2.26], [55.6, 2.24], [57.6, 2.28], [58.8, 2.2], [60.4, 2.31], [61.2, 2.28], [62.4, 2.32], [63.2, 2.26],
    [64.4, 2.36], [65.6, 2.34], [67.2, 2.4], [68.8, 2.36], [70.0, 2.46], [71.8, 2.43], [73.2, 2.5], [74.4, 2.45],
    [75.2, 2.52], [76.8, 2.5], [77.8, 2.58], [78.9, 2.45], [79.6, 2.58]]

  const midFarHits = [[40.5, 0.55], [40.8, 1.2], [41.3, 0.82], [41.6, 1.45], [42.0, 0.63], [42.5, 1.05], [43.1, 1.36],
    [43.4, 0.49], [43.8, 0.94], [44.3, 1.22], [44.7, 0.7], [45.2, 1.5], [45.6, 0.58], [46.1, 1.12], [46.4, 0.86],
    [46.8, 1.4], [47.3, 0.52], [47.7, 1.01], [48.2, 0.76], [48.6, 1.28], [49.1, 0.61], [49.4, 1.55], [49.8, 0.9],
    [50.4, 1.17], [50.9, 0.48], [51.2, 1.43], [51.7, 0.79], [52.0, 1.06], [52.5, 0.57], [52.9, 1.62], [53.3, 0.95],
    [53.7, 1.3], [54.1, 0.67], [54.5, 1.49], [54.9, 0.84], [55.3, 1.15], [55.7, 0.53], [56.1, 1.38], [56.5, 0.99],
    [57.0, 1.64], [57.5, 0.72], [57.9, 1.24], [58.3, 0.46], [58.7, 1.52], [59.2, 0.88], [59.6, 1.1], [60.0, 0.6],
    [60.5, 1.7], [60.9, 0.97], [61.3, 1.34], [61.7, 0.55], [62.1, 1.2], [62.5, 0.8], [62.9, 1.58], [63.3, 1.03],
    [63.7, 0.64], [64.1, 1.45], [64.6, 0.9], [65.0, 1.75], [65.4, 0.5], [65.8, 1.27], [66.2, 0.75], [66.6, 1.62],
    [67.0, 1.08], [67.4, 0.58], [67.8, 1.4], [68.2, 0.86], [68.6, 1.78], [69.0, 0.62], [69.4, 1.15], [69.8, 1.5],
    [70.2, 0.7], [70.6, 1.25], [71.0, 0.95], [71.4, 1.68], [71.8, 0.52], [72.2, 1.36], [72.6, 0.82], [73.0, 1.85],
    [73.4, 1.1], [73.8, 0.6], [74.2, 1.47], [74.6, 0.92], [75.0, 1.72], [75.4, 0.55], [75.8, 1.3], [76.2, 1.0],
    [76.6, 1.82], [77.0, 0.7], [44.0, 0.5], [48.0, 0.47], [55.5, 0.46], [63.9, 0.48], [70.4, 0.47], [46.2, 0.66],
    [53.6, 0.72], [59.9, 0.76], [67.7, 0.68], [42.2, 1.25], [58.0, 1.0], [64.8, 1.1], [73.2, 0.5]]

  const edgeHits = [[79.8, 0.5], [79.4, 0.62], [79.9, 0.78], [79.1, 0.9], [79.7, 1.02], [79.3, 1.15], [79.9, 1.28],
    [78.6, 1.35], [79.6, 1.45], [79.2, 1.58], [79.9, 1.7], [78.9, 1.8], [79.5, 1.92], [79.8, 2.05], [78.4, 2.12],
    [79.3, 2.2], [79.9, 2.3], [78.0, 1.05], [77.8, 1.62], [78.7, 0.68], [79.0, 2.0], [79.6, 0.85], [78.2, 1.95],
    [79.8, 1.55], [79.4, 2.38], [77.6, 0.88]]

  const hitColor = '#e6421b'
  const bandHits = [].concat(arcEdgeHits, lowArcHits, arcHits)
  const floorHits = [].concat(floorNearHits, floorFarHits)
  const looseHits = [].concat(strayHits, midHits, upperFarHits, midFarHits, edgeHits)
  const denseShapes = [denseArc, denseFloor]

  const chart = echarts.init(document.getElementById('chart'), null, {renderer: 'canvas'})
  const labelFont = 'Liberation Sans, Arial, sans-serif'
  const tickColor = '#b4b4b4'

  function hitSeries(data, size) {
    return {
      type: 'scatter',
      xAxisIndex: 0, yAxisIndex: 0,
      silent: true,
      z: 3,
      symbol: 'circle',
      symbolSize: size,
      itemStyle: {color: hitColor},
      data: data
    }
  }

  chart.setOption({
    animation: false,
    backgroundColor: '#ffffff',
    grid: {
      left: 82, top: 32, right: 10, bottom: 98,
      show: true, borderColor: '#d6d6d6', borderWidth: 2
    },
    xAxis: [{
      type: 'value', min: -10, max: 90, position: 'bottom',
      axisLine: {show: true, onZero: false, lineStyle: {color: '#c4c4c4', width: 2}},
      axisTick: {show: true, inside: true, length: 12, customValues: xLabels, lineStyle: {color: tickColor, width: 1.5}},
      axisLabel: {customValues: xLabels, fontSize: 20, color: '#3d3d3d', margin: 13, fontFamily: labelFont},
      splitLine: {show: false},
      name: 'Z (cm)', nameLocation: 'middle', nameGap: 55,
      nameTextStyle: {fontSize: 18, color: '#444', fontFamily: labelFont}
    }, {
      // minor ticks every 5 cm
      type: 'value', min: -10, max: 90, interval: 5, position: 'bottom',
      axisLine: {show: false, onZero: false},
      axisTick: {show: true, inside: true, length: 6, lineStyle: {color: tickColor, width: 1.5}},
      axisLabel: {show: false},
      splitLine: {show: false}
    }],
    yAxis: [{
      type: 'value', min: -0.5, max: 4, interval: 0.5, position: 'left',
      axisLine: {show: true, onZero: false, lineStyle: {color: '#c4c4c4', width: 2}},
      axisTick: {show: true, inside: true, length: 14, lineStyle: {color: tickColor, width: 1.5}},
      axisLabel: {customValues: yLabels, fontSize: 20, color: '#3d3d3d', margin: 14, fontFamily: labelFont},
      splitLine: {show: false}
    }, {
      // minor ticks every 0.1 cm
      type: 'value', min: -0.5, max: 4, interval: 0.1, position: 'left',
      axisLine: {show: false, onZero: false},
      axisTick: {show: true, inside: true, length: 8, lineStyle: {color: tickColor, width: 1.5}},
      axisLabel: {show: false},
      splitLine: {show: false}
    }],
    graphic: [
      {
        type: 'text', x: 27, y: 363, rotation: Math.PI / 2, z: 10,
        style: {
          text: '{a|R}{b|max}{a|(cm)}',
          align: 'center', verticalAlign: 'middle',
          rich: {
            a: {fontSize: 18, lineHeight: 24, verticalAlign: 'bottom', fill: '#444', fontFamily: labelFont},
            b: {fontSize: 15, lineHeight: 14, verticalAlign: 'top', fill: '#444', fontFamily: labelFont}
          }
        }
      },
      {
        type: 'rect', shape: {x: 303, y: 33, width: 307, height: 74},
        style: {fill: 'none', stroke: '#6fd6b4', lineWidth: 2}
      },
      {
        type: 'text', x: 450, y: 72,
        style: {text: 'T. Maruyama', fontSize: 41, fontFamily: labelFont, fill: '#111', align: 'center', verticalAlign: 'middle'}
      },
      {
        type: 'text', x: 676, y: 91,
        style: {text: '5 T', fontSize: 68, fontFamily: 'Liberation Serif, Times New Roman, serif', fill: '#000', align: 'center', verticalAlign: 'middle'}
      }
    ],
    series: [
      {
        type: 'custom',
        xAxisIndex: 0, yAxisIndex: 0,
        silent: true,
        z: 2,
        data: denseShapes.map((s, i) => [i, 0]),
        renderItem: function (params, api) {
          const poly = denseShapes[params.dataIndex]
          return {
            type: 'polygon',
            shape: {points: poly.map(p => api.coord(p))},
            style: {fill: hitColor}
          }
        }
      },
      hitSeries(bandHits, 5.8),
      hitSeries(floorHits, 4.8),
      hitSeries(looseHits, 4.1),
      {
        type: 'line',
        xAxisIndex: 0, yAxisIndex: 0,
        silent: true,
        z: 5,
        symbol: 'none',
        lineStyle: {color: '#000', width: 2.5},
        data: limitZ.map((z, i) => [z, limitR[i]])
      },
      {
        type: 'line',
        xAxisIndex: 0, yAxisIndex: 0,
        silent: true,
        z: 6,
        data: [],
        markLine: {
          silent: true,
          symbol: 'none',
          lineStyle: {color: '#3a7fd2', width: 3, type: 'solid'},
          label: {
            show: true, position: 'start', formatter: '{b}', distance: 6,
            color: '#2f72c9', fontSize: 17, fontWeight: 'bold', fontFamily: labelFont
          },
          emphasis: {disabled: true},
          data: vxdR.map((r, i) => [
            {name: vxdNames[i], coord: [vxdZStart[i], r]},
            {coord: [vxdZEnd[i], r]}
          ])
        }
      }
    ]
  })
</script>
</body>
</html>
